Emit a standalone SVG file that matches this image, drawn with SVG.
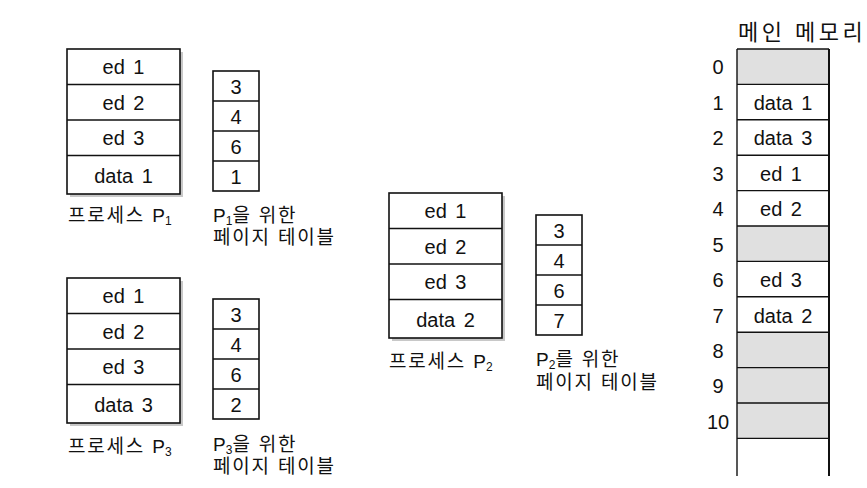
<svg xmlns="http://www.w3.org/2000/svg" width="867" height="488" viewBox="0 0 867 488">
<style>
text{font-family:"Liberation Sans","Noto Sans CJK KR",sans-serif;fill:#111}
.cell{font-size:20px;text-anchor:middle;word-spacing:3px}
.num{font-size:20px;text-anchor:middle}
.lbl{font-size:19px;letter-spacing:1.8px}
.p{letter-spacing:0}
.sub{font-size:12px;letter-spacing:0}
.box{fill:#fff;stroke:#111;stroke-width:1.6}
.shadow{fill:#c8c8c8}
.ln{stroke:#111;stroke-width:1.4}
.grey{fill:#e0e0e0}
</style>
<defs>
<g id="proc">
<rect class="shadow" x="3" y="3" width="113" height="145"/>
<rect class="box" x="0" y="0" width="113" height="145"/>
<line class="ln" x1="0" y1="35.5" x2="113" y2="35.5"/>
<line class="ln" x1="0" y1="71" x2="113" y2="71"/>
<line class="ln" x1="0" y1="106.5" x2="113" y2="106.5"/>
</g>
<g id="ptab">
<rect class="box" x="0" y="0" width="46" height="120"/>
<line class="ln" x1="0" y1="30" x2="46" y2="30"/>
<line class="ln" x1="0" y1="60" x2="46" y2="60"/>
<line class="ln" x1="0" y1="90" x2="46" y2="90"/>
</g>
</defs>

<g id="process-p1">
<use href="#proc" x="67" y="49"/>
<text class="cell" x="123.5" y="74">ed 1</text>
<text class="cell" x="123.5" y="109.5">ed 2</text>
<text class="cell" x="123.5" y="145">ed 3</text>
<text class="cell" x="123.5" y="182.5">data 1</text>
<text class="lbl" x="68" y="222">프로세스 <tspan class="p">P</tspan><tspan class="sub" dy="3">1</tspan></text>
</g>
<g id="pagetable-p1">
<use href="#ptab" x="213" y="71"/>
<text class="num" x="236" y="93.5">3</text>
<text class="num" x="236" y="123.5">4</text>
<text class="num" x="236" y="153.5">6</text>
<text class="num" x="236" y="183.5">1</text>
<text class="lbl" x="213" y="222"><tspan class="p">P</tspan><tspan class="sub" dy="3">1</tspan><tspan dy="-3">을 위한</tspan></text>
<text class="lbl" x="213" y="244">페이지 테이블</text>
</g>

<g id="process-p3">
<use href="#proc" x="67" y="278"/>
<text class="cell" x="123.5" y="303">ed 1</text>
<text class="cell" x="123.5" y="338.5">ed 2</text>
<text class="cell" x="123.5" y="374">ed 3</text>
<text class="cell" x="123.5" y="411.5">data 3</text>
<text class="lbl" x="68" y="453">프로세스 <tspan class="p">P</tspan><tspan class="sub" dy="3">3</tspan></text>
</g>
<g id="pagetable-p3">
<use href="#ptab" x="213" y="299"/>
<text class="num" x="236" y="321.5">3</text>
<text class="num" x="236" y="351.5">4</text>
<text class="num" x="236" y="381.5">6</text>
<text class="num" x="236" y="411.5">2</text>
<text class="lbl" x="213" y="451"><tspan class="p">P</tspan><tspan class="sub" dy="3">3</tspan><tspan dy="-3">을 위한</tspan></text>
<text class="lbl" x="213" y="473">페이지 테이블</text>
</g>

<g id="process-p2">
<use href="#proc" x="389" y="193"/>
<text class="cell" x="445.5" y="218">ed 1</text>
<text class="cell" x="445.5" y="253.5">ed 2</text>
<text class="cell" x="445.5" y="289">ed 3</text>
<text class="cell" x="445.5" y="326.5">data 2</text>
<text class="lbl" x="389" y="368">프로세스 <tspan class="p">P</tspan><tspan class="sub" dy="3">2</tspan></text>
</g>
<g id="pagetable-p2">
<use href="#ptab" x="536" y="215"/>
<text class="num" x="559" y="237.5">3</text>
<text class="num" x="559" y="267.5">4</text>
<text class="num" x="559" y="297.5">6</text>
<text class="num" x="559" y="327.5">7</text>
<text class="lbl" x="536" y="366"><tspan class="p">P</tspan><tspan class="sub" dy="3">2</tspan><tspan dy="-3">를 위한</tspan></text>
<text class="lbl" x="536" y="389">페이지 테이블</text>
</g>

<g id="main-memory">
<text x="738" y="40" style="font-size:22px;letter-spacing:3.5px">메인 메모리</text>
<rect x="737" y="49" width="92" height="426" fill="#fff"/>
<rect class="grey" x="737" y="49" width="92" height="35.4"/>
<rect class="grey" x="737" y="226" width="92" height="35.4"/>
<rect class="grey" x="737" y="332.2" width="92" height="106.2"/>
<g class="ln">
<line x1="737" y1="49" x2="829" y2="49"/>
<line x1="737" y1="84.4" x2="829" y2="84.4"/>
<line x1="737" y1="119.8" x2="829" y2="119.8"/>
<line x1="737" y1="155.2" x2="829" y2="155.2"/>
<line x1="737" y1="190.6" x2="829" y2="190.6"/>
<line x1="737" y1="226" x2="829" y2="226"/>
<line x1="737" y1="261.4" x2="829" y2="261.4"/>
<line x1="737" y1="296.8" x2="829" y2="296.8"/>
<line x1="737" y1="332.2" x2="829" y2="332.2"/>
<line x1="737" y1="367.6" x2="829" y2="367.6"/>
<line x1="737" y1="403" x2="829" y2="403"/>
<line x1="737" y1="438.4" x2="829" y2="438.4"/>
<line x1="737" y1="49" x2="737" y2="476"/>
<line x1="829" y1="49" x2="829" y2="476" style="stroke-width:2"/>
</g>
<text class="cell" x="783" y="109.5">data 1</text>
<text class="cell" x="783" y="145">data 3</text>
<text class="cell" x="781" y="180.5">ed 1</text>
<text class="cell" x="781" y="216">ed 2</text>
<text class="cell" x="781" y="287">ed 3</text>
<text class="cell" x="783" y="322.5">data 2</text>
<text class="num" x="718" y="74">0</text>
<text class="num" x="718" y="109.5">1</text>
<text class="num" x="718" y="145">2</text>
<text class="num" x="718" y="180.5">3</text>
<text class="num" x="718" y="216">4</text>
<text class="num" x="718" y="251.5">5</text>
<text class="num" x="718" y="287">6</text>
<text class="num" x="718" y="322.5">7</text>
<text class="num" x="718" y="357.5">8</text>
<text class="num" x="718" y="393">9</text>
<text class="num" x="718" y="428.5">10</text>
</g>
<g id="connectors"/>
</svg>
